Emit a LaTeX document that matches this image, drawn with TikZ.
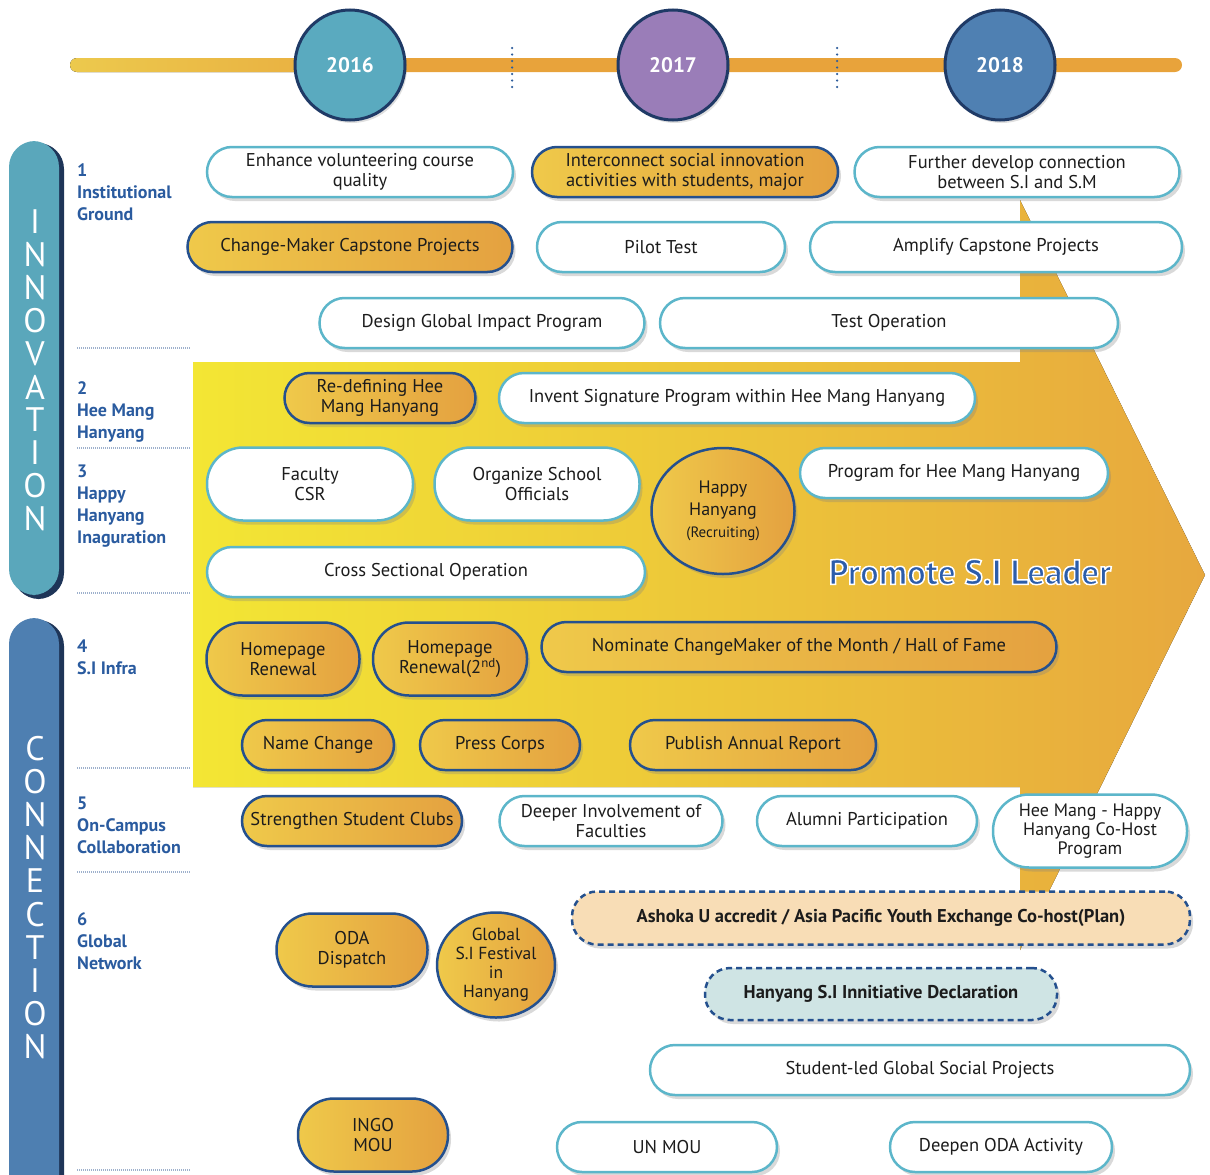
\documentclass[tikz,border=0pt]{standalone}
\usepackage{fontspec}
\setmainfont{PT Sans}
\usetikzlibrary{shapes.misc,shapes.geometric,shadows,positioning}

\definecolor{timeyellow}{HTML}{ECC94D}
\definecolor{timeorange}{HTML}{E8A33B}
\definecolor{ballteal}{HTML}{5AAABF}
\definecolor{ballpurple}{HTML}{9A7DB8}
\definecolor{ballblue}{HTML}{4F80B2}
\definecolor{ballnavy}{HTML}{1F3A66}
\definecolor{boxnavy}{HTML}{24508E}
\definecolor{boxteal}{HTML}{5CB6CA}
\definecolor{ogyellow}{HTML}{EFC94A}
\definecolor{ogorange}{HTML}{E4A140}
\definecolor{labelblue}{HTML}{2A5B9F}
\definecolor{peach}{HTML}{F8DDB6}
\definecolor{paleteal}{HTML}{CFE4E4}
\definecolor{inktext}{HTML}{1C1C1C}
\definecolor{arrowyellow}{HTML}{F3E634}
\definecolor{arrowmid}{HTML}{EFCB35}
\definecolor{arroworange}{HTML}{E7A83E}
\definecolor{innoteal}{HTML}{5AA7BB}
\definecolor{connblue}{HTML}{4E7FB1}
\definecolor{barshade}{HTML}{1E3558}
\definecolor{sepgray}{HTML}{9DB0CC}
\definecolor{dotblue}{HTML}{2F5E9C}
\definecolor{promoblue}{HTML}{2C5DAA}

\newcommand\bxfont{\fontsize{18.5}{20}\selectfont}
% blue letters with a white outline (fill, then stroke)
\newcommand\outlined[1]{\special{pdf:literal direct 2 Tr 1.5 w 1 1 1 RG}#1\special{pdf:literal direct 0 Tr}}

\tikzset{
  boxbase/.style={rectangle, rounded corners=25pt, line width=2.5pt, minimum height=50pt,
    align=center, font=\bxfont, text=inktext, inner sep=2pt,
    drop shadow={shadow xshift=3pt, shadow yshift=-4pt, opacity=0.3}},
  wbox/.style={boxbase, draw=boxteal, fill=white},
  obox/.style={boxbase, draw=boxnavy, left color=ogyellow, right color=ogorange},
  tall/.style={rounded corners=36pt, minimum height=73pt},
  planbox/.style={boxbase, draw=boxnavy, dash pattern=on 6pt off 4pt, font=\bxfont\bfseries},
  roundbox/.style={obox, ellipse},
  yearball/.style={circle, minimum size=110pt, draw=ballnavy, line width=3pt, text=white,
    inner sep=0pt, font=\fontsize{21}{21}\selectfont\bfseries,
    drop shadow={shadow xshift=2pt, shadow yshift=-3pt, opacity=0.25}},
  barletter/.style={text=white, font=\fontsize{34}{34}\selectfont, inner sep=0pt},
  catlabel/.style={anchor=north west, align=left, inner sep=0pt, text=labelblue,
    font=\fontsize{18}{22}\selectfont\bfseries},
  sepline/.style={sepgray, line width=1.2pt, dash pattern=on 1pt off 1pt},
  promo/.style={font=\fontsize{35}{35}\selectfont\bfseries, inner sep=0pt, text=promoblue}
}

\begin{document}
\begin{tikzpicture}[x=1pt,y=-1pt]
  \useasboundingbox (0,0) rectangle (1210,1175);

  % timeline
  \fill[left color=timeyellow, right color=timeorange!70!timeyellow, rounded corners=7pt] (70,58) rectangle (340,72);
  \fill[timeorange, rounded corners=7pt] (330,58) rectangle (1182,72);
  \draw[dotblue, line width=2.5pt, dash pattern=on 0pt off 6.5pt, line cap=round] (512,48) -- (512,90);
  \draw[dotblue, line width=2.5pt, dash pattern=on 0pt off 6.5pt, line cap=round] (837,48) -- (837,90);
  \node[yearball, fill=ballteal] (y2016) at (350,65) {2016};
  \node[yearball, fill=ballpurple] (y2017) at (673,65) {2017};
  \node[yearball, fill=ballblue] (y2018) at (1000,65) {2018};

  % big yellow arrow behind the boxes
  \fill[left color=arrowyellow, middle color=arrowmid, right color=arroworange]
    (193,362) -- (1020,362) -- (1020,200) -- (1205,575) -- (1020,950) -- (1020,787) -- (193,787) -- cycle;

  % side bars
  \fill[barshade, rounded corners=26pt] (13,143) rectangle (64,599);
  \fill[innoteal, rounded corners=26pt] (9,141) rectangle (59,595);
  \fill[barshade, rounded corners=26pt] (13,620) rectangle (64,1210);
  \fill[connblue, rounded corners=26pt] (9,618) rectangle (59,1206);
  \foreach \ch [count=\i] in {I,N,N,O,V,A,T,I,O,N}
    \node[barletter] (inno\i) at (35,{189+33*\i}) {\ch};
  \foreach \ch [count=\i] in {C,O,N,N,E,C,T,I,O,N}
    \node[barletter] (conn\i) at (35,{715+33.2*\i}) {\ch};

  % category labels
  \node[catlabel] (cat1) at (77,163) {1\\Institutional\\Ground};
  \node[catlabel] (cat2) at (77,381) {2\\Hee Mang\\Hanyang};
  \node[catlabel] (cat3) at (77,465) {3\\Happy\\Hanyang\\Inaguration};
  \node[catlabel] (cat4) at (77,640) {4\\S.I Infra};
  \node[catlabel] (cat5) at (77,797) {5\\On-Campus\\Collaboration};
  \node[catlabel] (cat6) at (77,912) {6\\Global\\Network};
  \foreach \yy in {348,448,593,768,872,1170}
    \draw[sepline] (77,\yy) -- (190,\yy);

  % 1 institutional ground
  \node[wbox, minimum width=306pt] (enhance) at (360,172) {Enhance volunteering course\\quality};
  \node[obox, minimum width=306pt] (interconnect) at (685,172) {Interconnect social innovation\\activities with students, major};
  \node[wbox, minimum width=325pt] (further) at (1017,172) {Further develop connection\\between S.I and S.M};
  \node[obox, minimum width=325pt] (capstone) at (350,247) {Change-Maker Capstone Projects};
  \node[wbox, minimum width=248pt] (pilot) at (661,247) {Pilot Test};
  \node[wbox, minimum width=372pt] (amplify) at (996,247) {Amplify Capstone Projects};
  \node[wbox, minimum width=325pt] (globalimpact) at (482,323) {Design Global Impact Program};
  \node[wbox, minimum width=458pt] (testop) at (889,323) {Test Operation};

  % 2 hee mang hanyang
  \node[obox, minimum width=191pt] (redefine) at (380,398) {Re-defining Hee\\Mang Hanyang};
  \node[wbox, minimum width=476pt] (invent) at (737,398) {Invent Signature Program within Hee Mang Hanyang};

  % 3 happy hanyang
  \node[wbox, tall, minimum width=206pt] (faculty) at (310,484) {Faculty\\CSR};
  \node[wbox, tall, minimum width=205pt] (officials) at (537,484) {Organize School\\Officials};
  \node[roundbox, minimum width=143pt, minimum height=126pt, font=\fontsize{18}{22}\selectfont] (happy) at (723,511)
    {Happy\\Hanyang\\{\fontsize{15}{22}\selectfont(Recruiting)}};
  \node[wbox, minimum width=308pt] (program) at (954,473) {Program for Hee Mang Hanyang};
  \node[wbox, minimum width=438pt] (cross) at (426,572) {Cross Sectional Operation};

  % slogan
  \node[promo] (promote) at (970,572) {\outlined{Promote S.I Leader}};

  % 4 s.i infra
  \node[obox, tall, minimum width=153pt] (home1) at (283,659) {Homepage\\Renewal};
  \node[obox, tall, minimum width=154pt] (home2) at (450,659) {Homepage\\Renewal(2\textsuperscript{nd})};
  \node[obox, minimum width=515pt] (nominate) at (799,647) {Nominate ChangeMaker of the Month / Hall of Fame};
  \node[obox, minimum width=152pt] (rename) at (318,745) {Name Change};
  \node[obox, minimum width=160pt] (press) at (500,745) {Press Corps};
  \node[obox, minimum width=246pt] (annual) at (753,745) {Publish Annual Report};

  % 5 on-campus collaboration
  \node[obox, minimum width=220pt] (clubs) at (352,821) {Strengthen Student Clubs};
  \node[wbox, minimum width=223pt] (deeper) at (611,821) {Deeper Involvement of\\Faculties};
  \node[wbox, minimum width=220pt] (alumni) at (867,821) {Alumni Participation};
  \node[wbox, tall, minimum width=194pt, font=\fontsize{18}{19}\selectfont] (cohost) at (1090,831) {Hee Mang - Happy\\Hanyang Co-Host\\Program};

  % 6 global network
  \node[planbox, fill=peach, minimum width=618pt, minimum height=53pt] (ashoka) at (881,918) {Ashoka U accredit / Asia Pacific Youth Exchange Co-host(Plan)};
  \node[obox, tall, minimum width=151pt] (oda) at (352,950) {ODA\\Dispatch};
  \node[roundbox, minimum width=118pt, minimum height=105pt, inner sep=0pt, font=\fontsize{17.5}{19}\selectfont] (festival) at (496,965) {Global\\S.I Festival\\in\\Hanyang};
  \node[planbox, fill=paleteal, minimum width=352pt, minimum height=52pt] (declare) at (881,994) {Hanyang S.I Innitiative Declaration};
  \node[wbox, minimum width=540pt] (studentled) at (920,1070) {Student-led Global Social Projects};
  \node[obox, tall, minimum width=150pt] (ingo) at (373,1135) {INGO\\MOU};
  \node[wbox, minimum width=220pt] (unmou) at (667,1147) {UN MOU};
  \node[wbox, minimum width=222pt] (deepen) at (1001,1147) {Deepen ODA Activity};
\end{tikzpicture}
\end{document}
